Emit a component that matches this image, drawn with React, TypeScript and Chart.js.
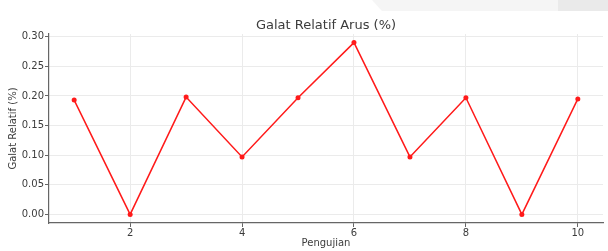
import React, { useEffect, useRef } from "react";
import { Chart, registerables } from "chart.js";

Chart.register(...registerables);

const trials = [1, 2, 3, 4, 5, 6, 7, 8, 9, 10];
const relErr = [0.193, 0.0, 0.198, 0.097, 0.197, 0.29, 0.097, 0.197, 0.0, 0.195];
const xTickValues = [2, 4, 6, 8, 10];
const yTickValues = [0, 0.05, 0.1, 0.15, 0.2, 0.25, 0.3];

const chartTitle = "Galat Relatif Arus (%)";
const xTitle = "Pengujian";
const yTitle = "Galat Relatif (%)";

const FONT = "'DejaVu Sans', sans-serif";
const TEXT = "#3c3c3c";
const SPINE = "#666666";
const GRID = "#ebebeb";

const backdrop = {
  id: "backdrop",
  beforeDraw(chart: any) {
    const ctx = chart.ctx;
    ctx.save();
    ctx.fillStyle = "#ffffff";
    ctx.fillRect(0, 0, chart.width, chart.height);
    ctx.fillStyle = "#f5f5f5";
    ctx.beginPath();
    ctx.moveTo(372, 0);
    ctx.lineTo(chart.width, 0);
    ctx.lineTo(chart.width, 11);
    ctx.lineTo(382, 11);
    ctx.closePath();
    ctx.fill();
    ctx.fillStyle = "#eaeaea";
    ctx.fillRect(558, 0, chart.width - 558, 11);
    ctx.restore();
  },
};

export default function App() {
  const ref = useRef<HTMLCanvasElement>(null);

  useEffect(() => {
    if (!ref.current) return;
    const chart = new Chart(ref.current, {
      type: "line",
      data: {
        datasets: [
          {
            data: trials.map((t, i) => ({ x: t, y: relErr[i] })),
            borderColor: "#ff1a1a",
            backgroundColor: "#ff1a1a",
            borderWidth: 1.5,
            pointRadius: 2.5,
            pointBorderWidth: 0,
            tension: 0,
            fill: false,
          },
        ],
      },
      options: {
        animation: false,
        responsive: false,
        layout: { padding: { left: 0, right: 5, top: 0, bottom: 0 } },
        plugins: {
          legend: { display: false },
          tooltip: { enabled: false },
          title: {
            display: true,
            text: chartTitle,
            fullSize: false,
            color: TEXT,
            font: { family: FONT, size: 13, weight: "normal", lineHeight: 1 },
            padding: { top: 19, bottom: 2 },
          },
        },
        scales: {
          x: {
            type: "linear",
            min: 0.55,
            max: 10.45,
            afterBuildTicks: (scale: any) => {
              scale.ticks = xTickValues.map((v) => ({ value: v }));
            },
            afterFit: (scale: any) => {
              scale.height = 28;
            },
            grid: {
              color: GRID,
              lineWidth: 1,
              drawTicks: true,
              tickLength: 4,
              tickColor: SPINE,
              tickWidth: 1,
            },
            border: { display: true, color: SPINE, width: 1.2 },
            ticks: {
              color: TEXT,
              font: { family: FONT, size: 10 },
              padding: 0,
              maxRotation: 0,
              callback: (v: any) => String(v),
            },
            title: {
              display: true,
              text: xTitle,
              color: TEXT,
              font: { family: FONT, size: 10 },
              padding: { top: 0, bottom: 2 },
            },
          },
          y: {
            type: "linear",
            min: -0.0145,
            max: 0.3045,
            afterBuildTicks: (scale: any) => {
              scale.ticks = yTickValues.map((v) => ({ value: v }));
            },
            afterFit: (scale: any) => {
              scale.width = 49;
            },
            grid: {
              color: GRID,
              lineWidth: 1,
              drawTicks: true,
              tickLength: 4,
              tickColor: SPINE,
              tickWidth: 1,
            },
            border: { display: true, color: SPINE, width: 1.2 },
            ticks: {
              color: TEXT,
              font: { family: FONT, size: 10 },
              padding: 1,
              callback: (v: any) => Number(v).toFixed(2),
            },
            title: {
              display: true,
              text: yTitle,
              color: TEXT,
              font: { family: FONT, size: 10 },
              padding: { top: 7, bottom: 0 },
            },
          },
        },
      },
      plugins: [backdrop],
    });
    return () => chart.destroy();
  }, []);

  return (
    <div style={{ position: "fixed", left: 0, top: 0, width: 608, height: 251 }}>
      <canvas ref={ref} width={608} height={251} />
    </div>
  );
}
